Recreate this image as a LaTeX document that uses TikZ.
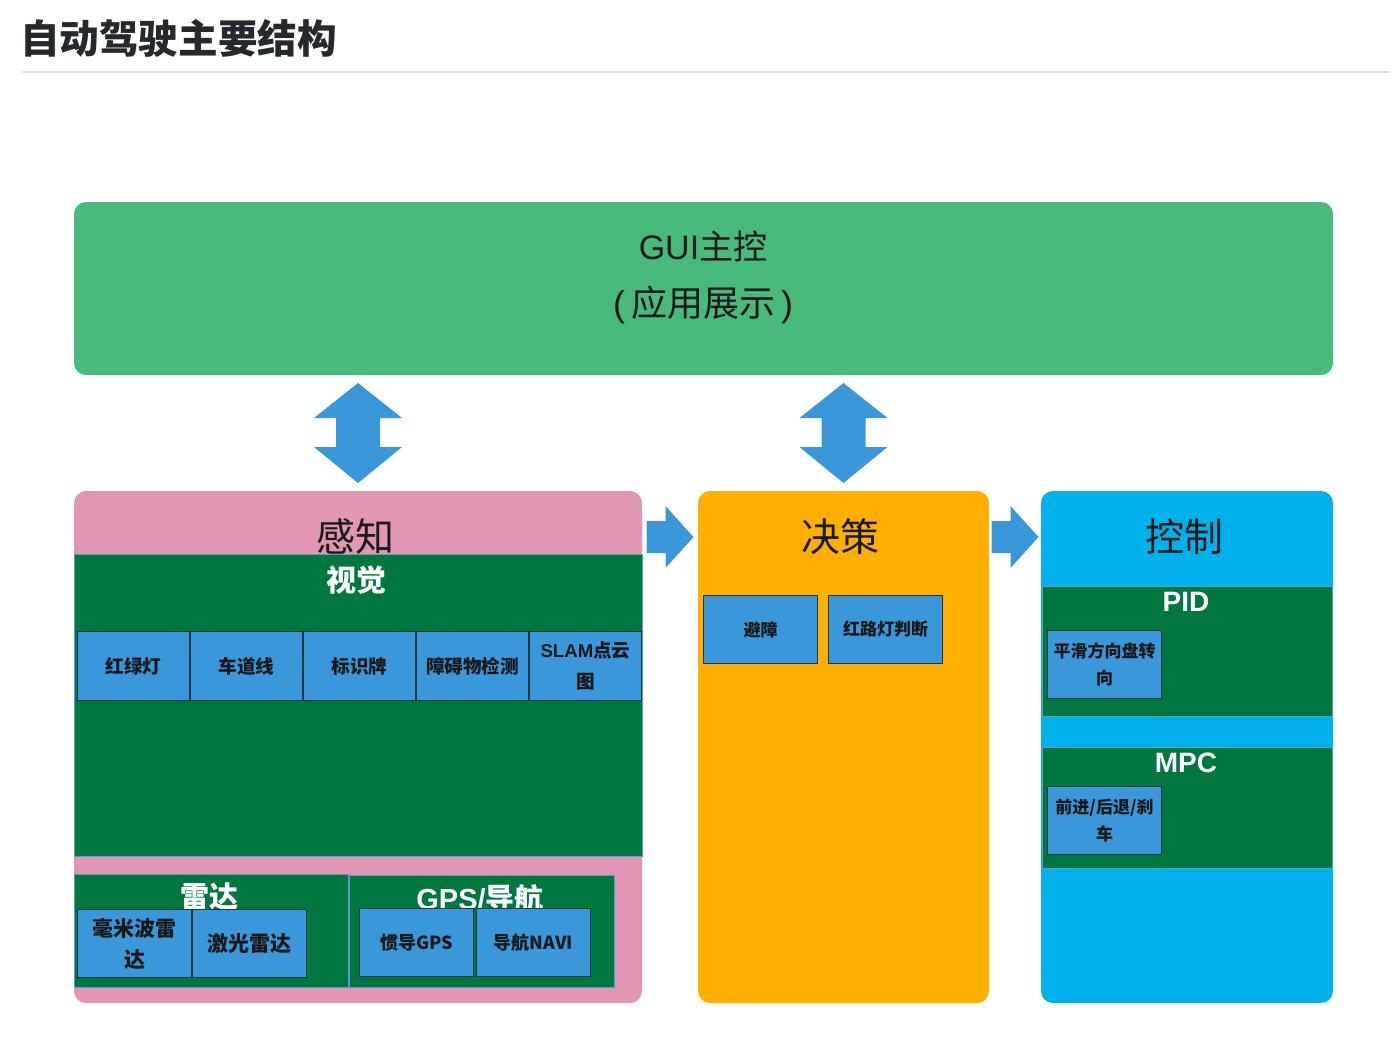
\documentclass[tikz,border=0pt]{standalone}
\usepackage{fontspec}
\setmainfont{Noto Sans CJK SC}
\newfontfamily\lat{Liberation Sans}
\usepackage{tikz}
\usetikzlibrary{positioning, fit, calc}

\definecolor{guigreen}{HTML}{48BA7C}
\definecolor{pinkbg}{HTML}{E096B4}
\definecolor{dkgreen}{HTML}{00773F}
\definecolor{boxblue}{HTML}{3A97D9}
\definecolor{orangebg}{HTML}{FFAF00}
\definecolor{cyanbg}{HTML}{00B1EC}
\definecolor{flowblue}{HTML}{3A98DA}
\definecolor{titlegray}{HTML}{24292E}
\definecolor{rulegray}{HTML}{DDE0E4}
\definecolor{edgeblue}{HTML}{5D9BCB}
\definecolor{leafline}{HTML}{1E3442}

\begin{document}
\begin{tikzpicture}[x=0.5pt, y=-0.5pt,
  panel/.style={inner sep=0pt, rounded corners=6pt},
  group/.style={inner sep=0pt, fill=dkgreen, draw=edgeblue, line width=0.5pt},
  head/.style={font=\fontsize{19.5}{23}\selectfont, text=black!90},
  tag/.style={font=\bfseries\fontsize{15}{18}\selectfont, text=white},
  latag/.style={font=\lat\bfseries\fontsize{14}{17}\selectfont, text=white},
  leaf/.style={draw=leafline, fill=boxblue, line width=0.7pt, inner sep=0pt,
    minimum width=56.8pt, minimum height=33.8pt, align=center, text=black!90,
    font=\bfseries\fontsize{8.5}{13.5}\selectfont},
  rowleaf/.style={leaf, minimum width=55.8pt, minimum height=34.3pt,
    font=\bfseries\fontsize{9.3}{15.5}\selectfont},
  bigleaf/.style={leaf, font=\bfseries\fontsize{10.5}{15.5}\selectfont},
  vflow/.pic={\fill[flowblue] (0,-50) -- (44,-15) -- (22,-15) -- (22,14) -- (44,14)
    -- (0,50) -- (-44,14) -- (-22,14) -- (-22,-15) -- (-44,-15) -- cycle;},
  hflow/.pic={\fill[flowblue] (-23.5,-16) -- (-4.5,-16) -- (-4.5,-31) -- (23.5,0)
    -- (-4.5,31) -- (-4.5,16) -- (-23.5,16) -- cycle;}
]
  \fill[white] (0,0) rectangle (1396,1056);
  \useasboundingbox (0,0) rectangle (1396,1056);

  \node[anchor=west, font=\bfseries\fontsize{19.8}{24}\selectfont, text=titlegray] (title) at (13,38) {自动驾驶主要结构};
  \draw[rulegray, line width=0.6pt] (22,72) -- (1390,72);

  \node[panel, fill=guigreen, fit={(74,202) (1333,375)}] (gui) {};
  \node[font=\fontsize{17}{20}\selectfont, text=black!90] (guitext) at (703,246) {{\lat GUI}主控};
  \node[font=\fontsize{18}{21}\selectfont, text=black!90] (guisub) at (703,305) {{\lat(}\,应用展示\,{\lat)}};

  \node[panel, fill=pinkbg, fit={(74,491) (642,1003)}] (perc) {};
  \node[panel, fill=orangebg, fit={(698,491) (989,1003)}] (dec) {};
  \node[panel, fill=cyanbg, fit={(1041,491) (1333,1003)}] (ctrl) {};

  \pic at ($(gui.south -| perc.north)!.5!(perc.north)$) {vflow};
  \pic at ($(gui.south -| dec.north)!.5!(dec.north)$) {vflow};

  \node[group, fit={(74,554) (642,856)}] (vision) {};
  \node[head] (perctitle) at (355,537) {感知};
  \node[tag] (visiontag) at (356,580) {视觉};
  \node[rowleaf, anchor=north west] (light) at (77,631) {红绿灯};
  \node[rowleaf] (lane) [right=0pt of light] {车道线};
  \node[rowleaf] (sign) [right=0pt of lane] {标识牌};
  \node[rowleaf] (obst) [right=0pt of sign] {障碍物检测};
  \node[rowleaf] (slam) [right=0pt of obst] {{\lat SLAM}点云\\图};

  \node[group, fit={(74,874) (348,987)}] (radar) {};
  \node[tag, font=\bfseries\fontsize{14.5}{17}\selectfont] (radartag) at (209,897) {雷达};
  \node[bigleaf, anchor=north west] (mmw) at (77,909) {毫米波雷\\达};
  \node[bigleaf] (lidar) [right=0pt of mmw] {激光雷达};

  \node[group, fit={(349,875) (614,987)}] (gps) {};
  \node[tag, font=\bfseries\fontsize{14.5}{17}\selectfont] (gpstag) at (480,898) {{\lat GPS/}导航};
  \node[bigleaf, font=\bfseries\fontsize{9}{15}\selectfont, anchor=north west] (ins) at (359,908) {惯导GPS};
  \node[bigleaf, font=\bfseries\fontsize{9}{15}\selectfont] (navi) [right=1pt of ins] {导航NAVI};

  \node[head] (dectitle) at (840,537) {决策};
  \node[leaf, anchor=north west] (avoid) at (703,595) {避障};
  \node[leaf] (redlight) [right=5pt of avoid] {红路灯判断};

  \node[head] (ctrltitle) at (1184,537) {控制};
  \node[group, fit={(1042,586) (1332,716)}] (pid) {};
  \node[latag] (pidtag) at (1186,602) {PID};
  \node[leaf, anchor=north west] (steer) at (1047,630) {平滑方向盘转\\向};
  \node[group, fit={(1042,747) (1332,868)}] (mpc) {};
  \node[latag] (mpctag) at (1186,763) {MPC};
  \node[leaf, anchor=north west] (drive) at (1047,786) {前进/后退/刹\\车};

  \pic at ($(perctitle -| perc.east)!.5!(perctitle -| dec.west)$) {hflow};
  \pic at ($(dectitle -| dec.east)!.5!(dectitle -| ctrl.west)$) {hflow};
\end{tikzpicture}
\end{document}
